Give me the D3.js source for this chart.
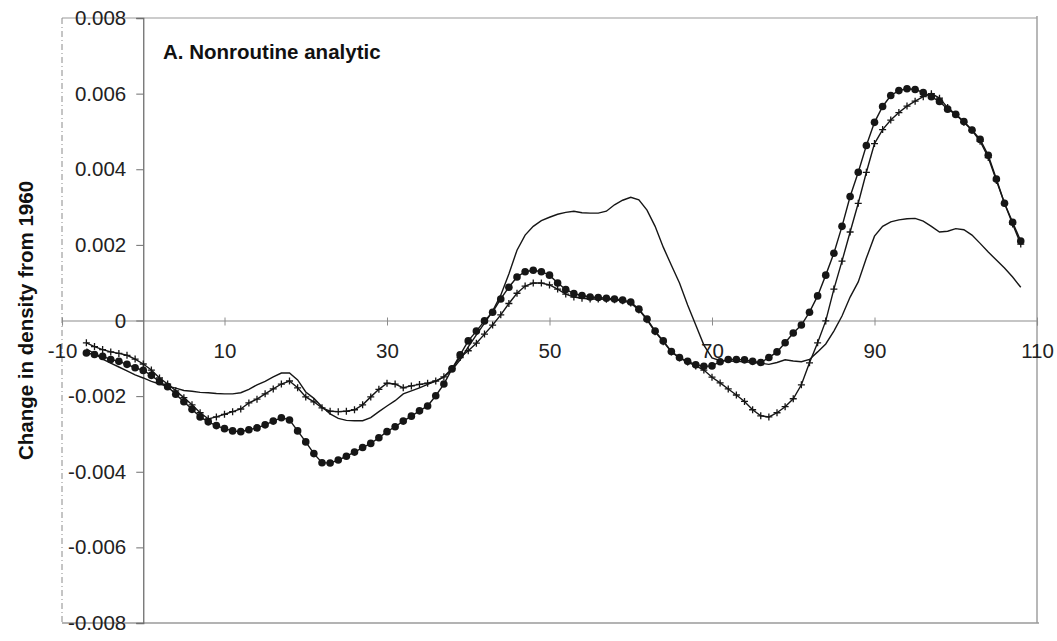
<!DOCTYPE html>
<html>
<head>
<meta charset="utf-8">
<script src="https://cdn.jsdelivr.net/npm/d3@7"></script>
<style>
  html, body { margin: 0; padding: 0; background: #fff; }
  svg { display: block; font-family: "Liberation Sans", Arial, sans-serif; }
</style>
</head>
<body>
<svg id="chart" width="1057" height="641"></svg>
<script>
// Occupational percentile positions (x) shared by all three series
const percentile = [
  -7, -6, -5, -4, -3, -2, -1, 0, 1, 2, 3, 4, 5, 6, 7, 8, 9, 10, 11, 12,
  13, 14, 15, 16, 17, 18, 19, 20, 21, 22, 23, 24, 25, 26, 27, 28, 29, 30, 31, 32,
  33, 34, 35, 36, 37, 38, 39, 40, 41, 42, 43, 44, 45, 46, 47, 48, 49, 50, 51, 52,
  53, 54, 55, 56, 57, 58, 59, 60, 61, 62, 63, 64, 65, 66, 67, 68, 69, 70, 71, 72,
  73, 74, 75, 76, 77, 78, 79, 80, 81, 82, 83, 84, 85, 86, 87, 88, 89, 90, 91, 92,
  93, 94, 95, 96, 97, 98, 99, 100, 101, 102, 103, 104, 105, 106, 107, 108
];

// Change in density from 1960, in thousandths
const solidSeries = [
  -0.75, -0.88, -1.02, -1.13, -1.23, -1.33, -1.44, -1.52, -1.61, -1.68, -1.74, -1.79, -1.85, -1.87, -1.90, -1.91, -1.93, -1.94, -1.94, -1.91,
  -1.82, -1.70, -1.61, -1.49, -1.39, -1.39, -1.57, -1.89, -2.06, -2.28, -2.47, -2.59, -2.64, -2.65, -2.65, -2.57, -2.41, -2.26, -2.12, -1.94,
  -1.86, -1.78, -1.69, -1.60, -1.49, -1.31, -1.04, -0.70, -0.38, -0.07, 0.25, 0.67, 1.23, 1.86, 2.26, 2.49, 2.64, 2.73, 2.81, 2.86,
  2.89, 2.85, 2.84, 2.84, 2.89, 3.06, 3.18, 3.26, 3.19, 2.92, 2.49, 1.94, 1.46, 0.99, 0.41, -0.12, -0.65, -0.99, -1.06, -1.07,
  -1.08, -1.09, -1.11, -1.13, -1.16, -1.11, -1.04, -1.07, -1.09, -1.03, -0.83, -0.62, -0.28, 0.12, 0.62, 1.02, 1.65, 2.23, 2.49, 2.61,
  2.66, 2.69, 2.70, 2.63, 2.49, 2.34, 2.36, 2.43, 2.40, 2.26, 2.04, 1.81, 1.60, 1.39, 1.15, 0.88
];

const plusSeries = [
  -0.59, -0.69, -0.77, -0.83, -0.87, -0.92, -1.02, -1.15, -1.31, -1.52, -1.68, -1.86, -2.04, -2.23, -2.44, -2.60, -2.55, -2.48, -2.41, -2.34,
  -2.18, -2.08, -1.94, -1.81, -1.68, -1.60, -1.78, -2.02, -2.15, -2.31, -2.40, -2.41, -2.40, -2.36, -2.23, -2.02, -1.82, -1.66, -1.68, -1.78,
  -1.73, -1.69, -1.66, -1.60, -1.49, -1.27, -0.98, -0.80, -0.60, -0.36, -0.12, 0.15, 0.45, 0.72, 0.91, 0.99, 0.99, 0.94, 0.83, 0.70,
  0.62, 0.59, 0.57, 0.57, 0.56, 0.55, 0.52, 0.46, 0.28, 0.02, -0.30, -0.56, -0.83, -0.99, -1.10, -1.20, -1.31, -1.50, -1.65, -1.81,
  -1.97, -2.14, -2.36, -2.52, -2.55, -2.44, -2.28, -2.07, -1.70, -1.12, -0.59, -0.01, 0.83, 1.57, 2.34, 3.10, 3.92, 4.68, 5.05, 5.30,
  5.50, 5.67, 5.80, 5.92, 6.00, 5.88, 5.63, 5.45, 5.24, 5.03, 4.74, 4.31, 3.70, 3.10, 2.55, 2.02
];

const dotSeries = [
  -0.86, -0.90, -0.95, -1.03, -1.08, -1.16, -1.25, -1.32, -1.45, -1.62, -1.75, -1.95, -2.15, -2.35, -2.55, -2.68, -2.78, -2.86, -2.92, -2.94,
  -2.89, -2.84, -2.76, -2.66, -2.57, -2.63, -2.92, -3.21, -3.52, -3.76, -3.77, -3.69, -3.59, -3.48, -3.36, -3.25, -3.10, -2.94, -2.81, -2.66,
  -2.53, -2.39, -2.26, -1.99, -1.68, -1.28, -0.91, -0.54, -0.28, -0.01, 0.22, 0.57, 0.88, 1.15, 1.29, 1.33, 1.29, 1.20, 0.99, 0.82,
  0.71, 0.66, 0.62, 0.61, 0.59, 0.57, 0.54, 0.49, 0.30, 0.04, -0.28, -0.54, -0.82, -0.98, -1.08, -1.17, -1.21, -1.20, -1.09, -1.03,
  -1.03, -1.04, -1.08, -1.11, -0.98, -0.83, -0.59, -0.33, -0.12, 0.22, 0.65, 1.20, 1.78, 2.49, 3.28, 3.92, 4.63, 5.24, 5.66, 5.95,
  6.08, 6.13, 6.11, 6.03, 5.92, 5.79, 5.59, 5.45, 5.26, 5.04, 4.79, 4.37, 3.74, 3.10, 2.60, 2.10
];

// Axis ticks and labels
const xTicks = [-10, 10, 30, 50, 70, 90, 110];
const xTickLabels = ["-10", "10", "30", "50", "70", "90", "110"];
const yTicks = [0.008, 0.006, 0.004, 0.002, 0, -0.002, -0.004, -0.006, -0.008];
const yTickLabels = ["0.008", "0.006", "0.004", "0.002", "0", "-0.002", "-0.004", "-0.006", "-0.008"];

const panelTitle = "A. Nonroutine analytic";
const yTitle = "Change in density from 1960";

const svg = d3.select("#chart");
const ink = "#161616";
const frame = "#9a9a9a";

const x = d3.scaleLinear().domain([-10, 110]).range([62, 1037]);
const y = d3.scaleLinear().domain([-0.008, 0.008]).range([623, 18]);

// Plot-area frame
const frameG = svg.append("g");
frameG.append("line").attr("x1", x(-10)).attr("x2", x(110)).attr("y1", y(0.008)).attr("y2", y(0.008))
  .attr("stroke", frame).attr("stroke-width", 1.2);
frameG.append("line").attr("x1", x(110)).attr("x2", x(110)).attr("y1", y(0.008) - 2).attr("y2", y(-0.008))
  .attr("stroke", frame).attr("stroke-width", 1.4);
frameG.append("line").attr("x1", x(-10)).attr("x2", x(110) + 2).attr("y1", y(-0.008)).attr("y2", y(-0.008))
  .attr("stroke", frame).attr("stroke-width", 1.4);
frameG.append("line").attr("x1", x(-10)).attr("x2", x(-10)).attr("y1", y(0.008)).attr("y2", y(-0.008))
  .attr("stroke", "#8a8a8a").attr("stroke-width", 1).attr("stroke-dasharray", "6,3,1,3");

// Horizontal axis across y = 0
const xAxis = d3.axisBottom(x)
  .tickValues(xTicks)
  .tickFormat((d, i) => xTickLabels[i])
  .tickSize(5)
  .tickPadding(18);
const xg = svg.append("g").attr("transform", `translate(0,${y(0)})`).call(xAxis);
xg.select(".domain").attr("stroke", "#8c8c8c").attr("stroke-width", 1.1);
xg.selectAll(".tick line").attr("stroke", "#8c8c8c").attr("y1", -3);
xg.selectAll(".tick text").attr("fill", "#222").style("font-size", "20.5px");

// Vertical axis at x = 0
const yAxis = d3.axisLeft(y)
  .tickValues(yTicks)
  .tickFormat((d, i) => yTickLabels[i])
  .tickSize(7)
  .tickPadding(10);
const yg = svg.append("g").attr("transform", `translate(${x(0)},0)`).call(yAxis);
yg.select(".domain").attr("stroke", "#6f6f6f").attr("stroke-width", 1.3);
yg.selectAll(".tick line").attr("stroke", "#6f6f6f");
yg.selectAll(".tick text").attr("fill", "#222").style("font-size", "20.5px");

// Series
const rows = percentile.map((p, i) => ({
  p, s: solidSeries[i] / 1000, c: plusSeries[i] / 1000, d: dotSeries[i] / 1000
}));

const line = key => d3.line().x(r => x(r.p)).y(r => y(r[key]));

svg.append("path").datum(rows).attr("d", line("s"))
  .attr("fill", "none").attr("stroke", ink).attr("stroke-width", 1.4);

svg.append("path").datum(rows).attr("d", line("c"))
  .attr("fill", "none").attr("stroke", ink).attr("stroke-width", 1.4);
svg.append("g").selectAll("path").data(rows).join("path")
  .attr("transform", r => `translate(${x(r.p)},${y(r.c)})`)
  .attr("d", "M-3.5,0H3.5M0,-3.5V3.5")
  .attr("stroke", ink).attr("stroke-width", 1.3);

svg.append("path").datum(rows).attr("d", line("d"))
  .attr("fill", "none").attr("stroke", ink).attr("stroke-width", 1.4);
svg.append("g").selectAll("circle").data(rows).join("circle")
  .attr("cx", r => x(r.p)).attr("cy", r => y(r.d)).attr("r", 3.8)
  .attr("fill", ink);

// Titles
svg.append("text").attr("x", 163).attr("y", 59)
  .attr("fill", "#111").style("font-size", "20.5px").style("font-weight", "bold")
  .text(panelTitle);

svg.append("text")
  .attr("transform", `translate(33,${y(0)}) rotate(-90)`)
  .attr("text-anchor", "middle")
  .attr("fill", "#111").style("font-size", "20.5px").style("font-weight", "bold")
  .text(yTitle);
</script>
</body>
</html>
